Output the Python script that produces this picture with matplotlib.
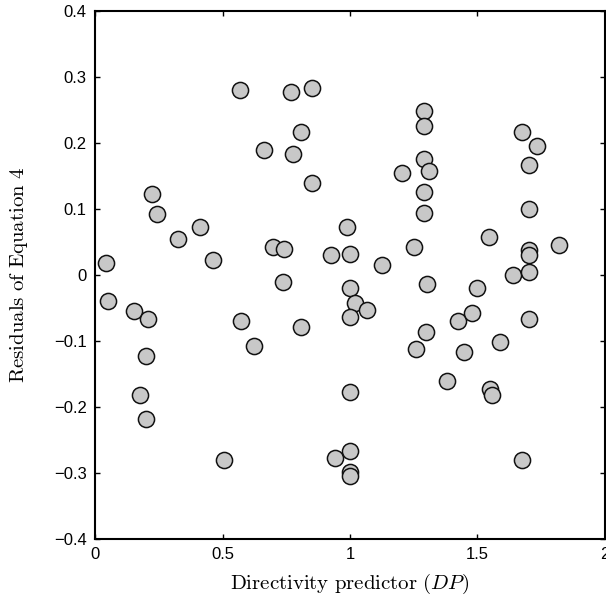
import matplotlib
matplotlib.use('Agg')
import matplotlib.pyplot as plt

# ================= data =================
dp = [0.043, 0.052, 0.152, 0.209, 0.200, 0.178, 0.200, 0.224, 0.243, 0.327,
      0.413, 0.464, 0.505, 0.569, 0.574, 0.622, 0.661, 0.697, 0.736, 0.742,
      0.767, 0.778, 0.808, 0.808, 0.851, 0.851, 0.924, 0.943, 0.990, 1.000,
      1.000, 1.021, 1.068, 1.000, 1.000, 1.000, 1.000, 1.000, 1.127, 1.203,
      1.252, 1.259, 1.290, 1.290, 1.290, 1.290, 1.290, 1.309, 1.301, 1.299,
      1.380, 1.422, 1.446, 1.478, 1.499, 1.544, 1.549, 1.556, 1.587, 1.638,
      1.676, 1.676, 1.701, 1.701, 1.701, 1.701, 1.701, 1.701, 1.735, 1.820]
resid = [0.018, -0.040, -0.055, -0.066, -0.122, -0.182, -0.218, 0.122, 0.093, 0.055,
         0.072, 0.023, -0.281, 0.280, -0.069, -0.108, 0.190, 0.042, -0.011, 0.040,
         0.277, 0.183, 0.217, -0.079, 0.284, 0.140, 0.030, -0.277, 0.072, 0.032,
         -0.019, -0.042, -0.053, -0.063, -0.178, -0.267, -0.298, -0.304, 0.015, 0.155,
         0.043, -0.112, 0.248, 0.226, 0.175, 0.126, 0.094, 0.157, -0.014, -0.086,
         -0.160, -0.070, -0.116, -0.058, -0.020, 0.057, -0.173, -0.182, -0.101, 0.000,
         0.216, -0.281, 0.167, 0.100, 0.038, 0.031, 0.004, -0.067, 0.196, 0.045]

x_ticks = [0, 0.5, 1, 1.5, 2]
x_labels = ["0", "0.5", "1", "1.5", "2"]
y_ticks = [-0.4, -0.3, -0.2, -0.1, 0, 0.1, 0.2, 0.3, 0.4]
y_labels = ["\u22120.4", "\u22120.3", "\u22120.2", "\u22120.1", "0", "0.1", "0.2", "0.3", "0.4"]

plt.rcParams['mathtext.fontset'] = 'cm'
plt.rcParams['font.family'] = ['Liberation Sans', 'DejaVu Sans']

fig = plt.figure(figsize=(6.06, 6.07), dpi=100)
ax = fig.add_axes([0.1568, 0.112, 0.8415, 0.8699])

ax.scatter(dp, resid, s=135, facecolor='#c8c8c8', edgecolor='#111111',
           linewidth=1.1, zorder=3)

ax.set_xlim(0, 2)
ax.set_ylim(-0.4, 0.4)
ax.set_xticks(x_ticks)
ax.set_xticklabels(x_labels)
ax.set_yticks(y_ticks)
ax.set_yticklabels(y_labels)
ax.tick_params(direction='in', top=True, right=True, length=3.5, width=1,
               labelsize=12, pad=6)
for sp in ax.spines.values():
    sp.set_linewidth(1.5)

ax.set_xlabel(r'$\mathrm{Directivity\ predictor\ }(DP)$', fontsize=15, labelpad=6.5)
ax.set_ylabel(r'$\mathrm{Residuals\ of\ Equation\ 4}$', fontsize=15, labelpad=17)

fig.savefig('out.png', dpi=100)
